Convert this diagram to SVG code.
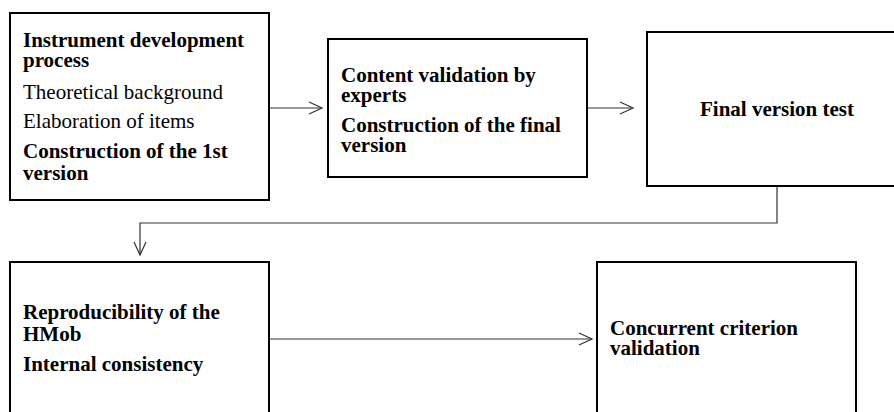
<svg xmlns="http://www.w3.org/2000/svg" width="894" height="412" viewBox="0 0 894 412">
  <style>
    .box { fill: #ffffff; stroke: #000000; stroke-width: 2; }
    .link { fill: none; stroke: #333333; stroke-width: 1.2; }
    text { font-family: "Liberation Serif", "Times New Roman", serif; font-size: 21px; fill: #000000; }
    .b { font-weight: bold; }
  </style>
  <defs>
    <marker id="open-arrow" markerUnits="userSpaceOnUse" markerWidth="16" markerHeight="16" viewBox="0 0 16 16" refX="14" refY="7" orient="auto">
      <path d="M1,1 L14,7 L1,13" fill="none" stroke="#333333" stroke-width="1.2"/>
    </marker>
  </defs>

  <rect width="894" height="412" fill="#ffffff"/>

  <g id="connectors">
    <path class="link" d="M269,108 H322" marker-end="url(#open-arrow)"/>
    <path class="link" d="M587,108 H633" marker-end="url(#open-arrow)"/>
    <path class="link" d="M777,186 V223 H140 V255" marker-end="url(#open-arrow)"/>
    <path class="link" d="M269,339 H592" marker-end="url(#open-arrow)"/>
  </g>

  <g id="node-development">
    <rect class="box" x="10" y="13" width="259" height="187"/>
    <text class="b" x="23" y="47">Instrument development</text>
    <text class="b" x="23" y="67">process</text>
    <text x="23" y="99">Theoretical background</text>
    <text x="23" y="128">Elaboration of items</text>
    <text class="b" x="23" y="158">Construction of the 1st</text>
    <text class="b" x="23" y="180">version</text>
  </g>

  <g id="node-content-validation">
    <rect class="box" x="328" y="39" width="259" height="138"/>
    <text class="b" x="341" y="82">Content validation by</text>
    <text class="b" x="341" y="102">experts</text>
    <text class="b" x="341" y="132">Construction of the final</text>
    <text class="b" x="341" y="152">version</text>
  </g>

  <g id="node-final-test">
    <rect class="box" x="647" y="32" width="260" height="154"/>
    <text class="b" x="700" y="116">Final version test</text>
  </g>

  <g id="node-reproducibility">
    <rect class="box" x="10" y="262" width="259" height="170"/>
    <text class="b" x="23" y="319">Reproducibility of the</text>
    <text class="b" x="23" y="341">HMob</text>
    <text class="b" x="23" y="371">Internal consistency</text>
  </g>

  <g id="node-concurrent">
    <rect class="box" x="597" y="262" width="259" height="170"/>
    <text class="b" x="610" y="335">Concurrent criterion</text>
    <text class="b" x="610" y="355">validation</text>
  </g>
</svg>
